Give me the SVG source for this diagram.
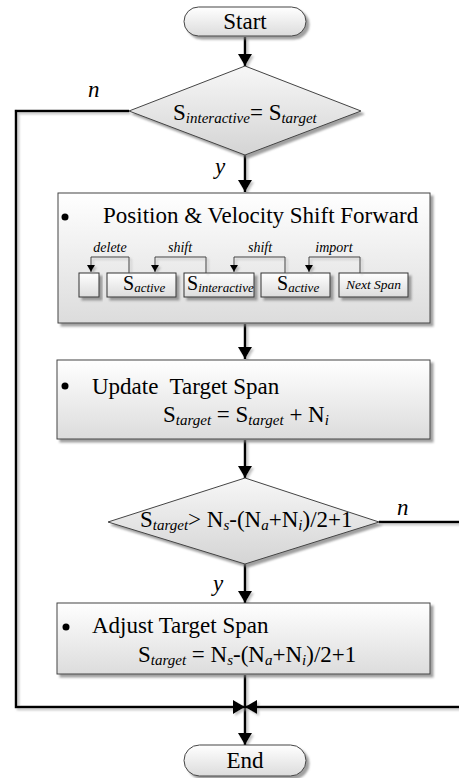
<svg xmlns="http://www.w3.org/2000/svg" width="459" height="778" viewBox="0 0 459 778" font-family="Liberation Serif, DejaVu Serif, serif">
  <defs>
    <linearGradient id="boxFill" x1="0" y1="0" x2="0" y2="1">
      <stop offset="0" stop-color="#ffffff"/>
      <stop offset="1" stop-color="#dcdcdc"/>
    </linearGradient>
    <linearGradient id="diaFill" x1="0" y1="0" x2="0" y2="1">
      <stop offset="0" stop-color="#f7f7f7"/>
      <stop offset="1" stop-color="#d4d4d4"/>
    </linearGradient>
    <filter id="shadow" x="-10%" y="-10%" width="130%" height="140%">
      <feDropShadow dx="3" dy="3" stdDeviation="1" flood-color="#777" flood-opacity="0.7"/>
    </filter>
    <!-- user-space region so straight lines keep their shadow -->
    <filter id="lineShadow" filterUnits="userSpaceOnUse" x="0" y="0" width="470" height="790">
      <feDropShadow dx="2" dy="2" stdDeviation="0.8" flood-color="#999" flood-opacity="0.6"/>
    </filter>
    <marker id="head" markerUnits="userSpaceOnUse" markerWidth="14" markerHeight="14" viewBox="0 0 14 14" refX="12" refY="7" orient="auto">
      <path d="M0,0 L12,7 L0,14 Z" fill="#000"/>
    </marker>
    <marker id="headSmall" markerUnits="userSpaceOnUse" markerWidth="8" markerHeight="8" viewBox="0 0 8 8" refX="7" refY="4" orient="auto">
      <path d="M0,0 L7,4 L0,8 Z" fill="#000"/>
    </marker>
  </defs>
  <style>
    text { font-family: "Liberation Serif", "DejaVu Serif", serif; fill: #000; }
    .big { font-size: 23px; }
    .it { font-style: italic; }
    .box { fill: url(#boxFill); stroke: #444; stroke-width: 1; filter: url(#shadow); }
    .dia { fill: url(#diaFill); stroke: #444; stroke-width: 1; filter: url(#shadow); }
    .cell { fill: url(#boxFill); stroke: #333; stroke-width: 1; filter: url(#shadow); }
    .flow { fill: none; stroke: #000; stroke-width: 2.5; filter: url(#lineShadow); }
    .mini { fill: none; stroke: #444; stroke-width: 1; filter: url(#lineShadow); }
    .lbl { font-size: 14px; font-style: italic; }
  </style>

  <!-- connectors -->
  <g id="connectors">
    <line class="flow" x1="245" y1="37" x2="245" y2="66" marker-end="url(#head)"/>
    <line class="flow" x1="245" y1="155" x2="245" y2="192" marker-end="url(#head)"/>
    <line class="flow" x1="245" y1="324" x2="245" y2="359" marker-end="url(#head)"/>
    <line class="flow" x1="245" y1="440" x2="245" y2="478" marker-end="url(#head)"/>
    <line class="flow" x1="245" y1="564" x2="245" y2="603" marker-end="url(#head)"/>
    <line class="flow" x1="245" y1="675" x2="245" y2="745" marker-end="url(#head)"/>
    <!-- "n" branch of the first decision: back round on the left -->
    <polyline class="flow" points="129,111 16,111 16,707 245,707" marker-end="url(#head)"/>
    <!-- "n" branch of the second decision: round on the right -->
    <polyline class="flow" points="379,522 462,522 462,707 245,707" marker-end="url(#head)"/>
    <text class="big it" x="88" y="97" font-size="21">n</text>
    <text class="big it" x="215" y="174" font-size="21">y</text>
    <text class="big it" x="397" y="515" font-size="21">n</text>
    <text class="big it" x="213" y="591" font-size="21">y</text>
  </g>

  <!-- Start -->
  <g id="start">
    <rect class="box" x="184" y="7" width="122" height="29" rx="14.5"/>
    <text class="big" x="245" y="29" text-anchor="middle">Start</text>
  </g>

  <!-- decision: interactive span reached the target? -->
  <g id="check-target">
    <polygon class="dia" points="245,66 361,111 245,155 129,111"/>
    <text class="big" x="173" y="120">S<tspan class="it" font-size="15" dy="3">interactive</tspan><tspan dy="-3">= S</tspan><tspan class="it" font-size="15" dy="3">target</tspan></text>
  </g>

  <!-- shift block -->
  <g id="shift-forward">
    <rect class="box" x="58" y="193" width="372" height="130"/>
    <circle cx="65" cy="217" r="3.5" fill="#000"/>
    <text class="big" x="103" y="223">Position &amp; Velocity Shift Forward</text>

    <g id="span-cells">
      <rect class="cell" x="79" y="273" width="20" height="24"/>
      <rect class="cell" x="107" y="273" width="69" height="24"/>
      <rect class="cell" x="184" y="273" width="70" height="24"/>
      <rect class="cell" x="261" y="273" width="69" height="24"/>
      <rect class="cell" x="339" y="273" width="69" height="24"/>
      <text x="123" y="290" font-size="20">S<tspan class="it" font-size="13" dy="2">active</tspan></text>
      <text x="187" y="290" font-size="20">S<tspan class="it" font-size="13" dy="2">interactive</tspan></text>
      <text x="277" y="290" font-size="20">S<tspan class="it" font-size="13" dy="2">active</tspan></text>
      <text class="it" x="373.5" y="289" font-size="13.5" text-anchor="middle">Next Span</text>
    </g>

    <g id="span-moves">
      <polyline class="mini" points="129,273 129,257 91,257 91,272" marker-end="url(#headSmall)"/>
      <polyline class="mini" points="206,273 206,257 155,257 155,272" marker-end="url(#headSmall)"/>
      <polyline class="mini" points="285,273 285,257 234,257 234,272" marker-end="url(#headSmall)"/>
      <polyline class="mini" points="360,273 360,257 309,257 309,272" marker-end="url(#headSmall)"/>
      <text class="lbl" x="110" y="252" text-anchor="middle">delete</text>
      <text class="lbl" x="180" y="252" text-anchor="middle">shift</text>
      <text class="lbl" x="260" y="252" text-anchor="middle">shift</text>
      <text class="lbl" x="334" y="252" text-anchor="middle">import</text>
    </g>
  </g>

  <!-- update target span -->
  <g id="update-target">
    <rect class="box" x="57" y="360" width="373" height="79"/>
    <circle cx="65" cy="386" r="3.5" fill="#000"/>
    <text class="big" x="92" y="394" xml:space="preserve">Update  Target Span</text>
    <text class="big" x="163" y="422">S<tspan class="it" font-size="15" dy="3">target</tspan><tspan dy="-3"> = S</tspan><tspan class="it" font-size="15" dy="3">target</tspan><tspan dy="-3"> + N</tspan><tspan class="it" font-size="15" dy="3">i</tspan></text>
  </g>

  <!-- decision: target beyond limit? -->
  <g id="check-limit">
    <polygon class="dia" points="245,478 379,522 245,564 108,522"/>
    <text class="big" x="140" y="527">S<tspan class="it" font-size="15" dy="3">target</tspan><tspan dy="-3">&gt; N</tspan><tspan class="it" font-size="15" dy="3">s</tspan><tspan dy="-3">-(N</tspan><tspan class="it" font-size="15" dy="3">a</tspan><tspan dy="-3">+N</tspan><tspan class="it" font-size="15" dy="3">i</tspan><tspan dy="-3">)/2+1</tspan></text>
  </g>

  <!-- adjust target span -->
  <g id="adjust-target">
    <rect class="box" x="57" y="603" width="373" height="71"/>
    <circle cx="66" cy="627" r="3.5" fill="#000"/>
    <text class="big" x="92" y="633">Adjust Target Span</text>
    <text class="big" x="138" y="662">S<tspan class="it" font-size="15" dy="3">target</tspan><tspan dy="-3"> = N</tspan><tspan class="it" font-size="15" dy="3">s</tspan><tspan dy="-3">-(N</tspan><tspan class="it" font-size="15" dy="3">a</tspan><tspan dy="-3">+N</tspan><tspan class="it" font-size="15" dy="3">i</tspan><tspan dy="-3">)/2+1</tspan></text>
  </g>

  <!-- End -->
  <g id="end">
    <rect class="box" x="184" y="745" width="122" height="31" rx="15.5"/>
    <text class="big" x="245" y="768" text-anchor="middle">End</text>
  </g>
</svg>
